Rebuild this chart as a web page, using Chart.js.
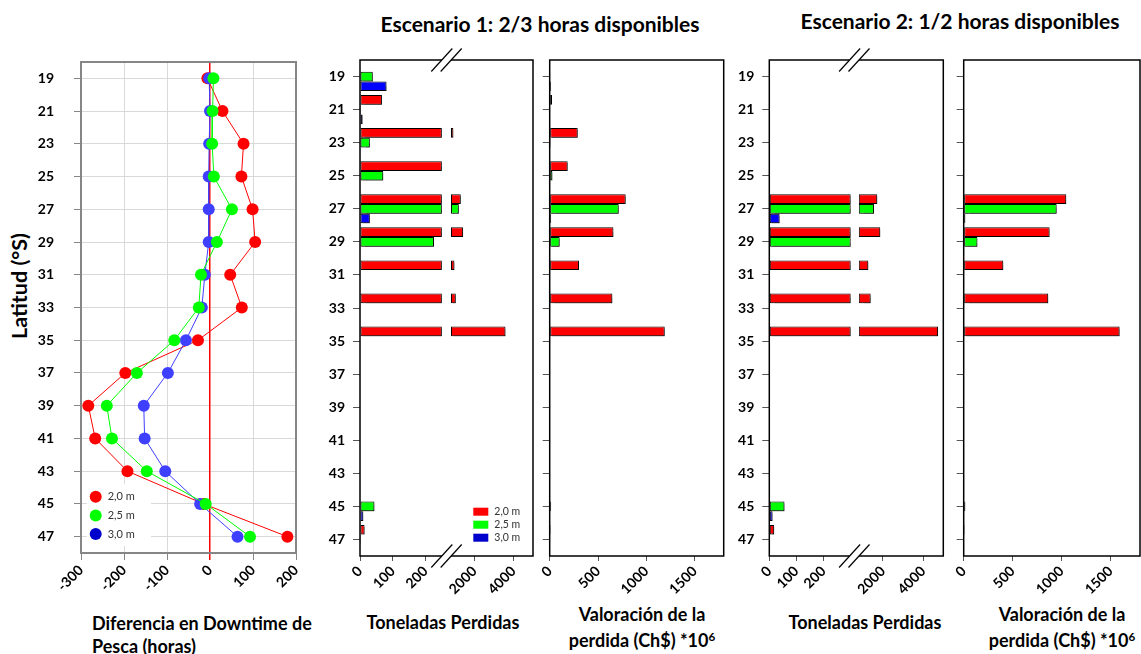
<!DOCTYPE html>
<html>
<head>
<meta charset="utf-8">
<script src="https://cdn.jsdelivr.net/npm/chart.js@4/dist/chart.umd.min.js"></script>
<style>
  body { margin: 0; width: 1141px; height: 654px; background: #fff; position: relative; overflow: hidden;
         font-family: Lato, "Liberation Sans", sans-serif; font-weight: bold; color: #000; }
  canvas { position: absolute; top: 0; }
  .txt { position: absolute; white-space: nowrap; line-height: 1; }
  .ctr { transform: translateX(-50%); text-align: center; }
  sup { font-size: 0.65em; vertical-align: 0.55em; line-height: 0; }
</style>
</head>
<body>
<div class="txt ctr" style="left:540px; top:13px; font-size:21px;">Escenario 1: 2/3 horas disponibles</div>
<div class="txt ctr" style="left:960px; top:10px; font-size:21px;">Escenario 2: 1/2 horas disponibles</div>
<div class="txt" style="left:20px; top:286px; font-size:21.5px; transform: translate(-50%,-50%) rotate(-90deg);">Latitud (°S)</div>
<div class="txt" style="left:92px; top:612px; font-size:18px; line-height:23px;">Diferencia en Downtime de<br>Pesca (horas)</div>
<div class="txt ctr" style="left:443px; top:613px; font-size:18px;">Toneladas Perdidas</div>
<div class="txt ctr" style="left:642px; top:601px; font-size:18px; line-height:26px;">Valoración de la<br>perdida (Ch$) *10<sup>6</sup></div>
<div class="txt ctr" style="left:865px; top:613px; font-size:18px;">Toneladas Perdidas</div>
<div class="txt ctr" style="left:1062px; top:601px; font-size:18px; line-height:26px;">Valoración de la<br>perdida (Ch$) *10<sup>6</sup></div>

<canvas id="downtime" width="310" height="603" style="left:0px"></canvas>
<canvas id="tonsS1" width="228" height="606" style="left:310px"></canvas>
<canvas id="valueS1" width="192" height="606" style="left:538px"></canvas>
<canvas id="tonsS2" width="220" height="606" style="left:730px"></canvas>
<canvas id="valueS2" width="191" height="606" style="left:950px"></canvas>

<script>
// Categories
const LATITUDES = ['19', '21', '23', '25', '27', '29', '31', '33', '35', '37', '39', '41', '43', '45', '47'];
const SERIES_LABELS = ['2,0 m', '2,5 m', '3,0 m'];

// Tick values
const DOWNTIME_TICKS = [-300, -200, -100, 0, 100, 200];
const TONS_LOW_TICKS = [0, 100, 200];
const TONS_HIGH_TICKS = [2000, 4000];
const VALUE_TICKS = [0, 500, 1000, 1500];

// Diferencia en downtime de pesca (horas)
const DOWNTIME_20 = [-6, 29, 78, 73, 99, 105, 47, 74, -28, -197, -283, -267, -192, -15, 180];
const DOWNTIME_25 = [8, 6, 5, 9, 51, 16, -21, -26, -83, -170, -240, -228, -147, -10, 93];
const DOWNTIME_30 = [-2, 0, -2, -3, -3, -3, -12, -19, -56, -98, -154, -152, -104, -23, 64];

// Escenario 1: toneladas perdidas
const TONS_S1_20 = [0, 67, 920, 590, 1300, 1420, 975, 1045, 3590, 0, 0, 0, 0, 0, 14];
const TONS_S1_25 = [39, 3, 30, 71, 1200, 226, 0, 0, 0, 0, 0, 0, 0, 44, 3];
const TONS_S1_30 = [81, 8, 0, 0, 30, 0, 0, 0, 0, 0, 0, 0, 0, 10, 2];

// Escenario 1: valoracion de la perdida (Ch$ *10^6)
const VALUE_S1_20 = [0, 24, 290, 186, 786, 659, 303, 648, 1190, 0, 0, 0, 0, 0, 10];
const VALUE_S1_25 = [3, 0, 10, 28, 714, 103, 0, 0, 0, 0, 0, 0, 0, 15, 0];
const VALUE_S1_30 = [14, 0, 0, 0, 15, 0, 0, 0, 0, 0, 0, 0, 0, 0, 0];

// Escenario 2: toneladas perdidas
const TONS_S2_20 = [0, 0, 0, 0, 1718, 1866, 1272, 1390, 4740, 0, 0, 0, 0, 0, 18];
const TONS_S2_25 = [0, 0, 0, 0, 1554, 310, 0, 0, 0, 0, 0, 0, 0, 56, 3];
const TONS_S2_30 = [0, 0, 0, 0, 38, 0, 0, 0, 0, 0, 0, 0, 0, 12, 2];

// Escenario 2: valoracion de la perdida (Ch$ *10^6)
const VALUE_S2_20 = [0, 0, 0, 0, 1047, 877, 404, 863, 1592, 0, 0, 0, 0, 0, 10];
const VALUE_S2_25 = [0, 0, 0, 0, 949, 140, 0, 0, 0, 0, 0, 0, 0, 17, 0];
const VALUE_S2_30 = [0, 0, 0, 0, 17, 0, 0, 0, 0, 0, 0, 0, 0, 0, 0];

// Colors
const POINT_COLORS = ['#ff0000', '#00ff00', '#3f3fff'];
const BAR_COLORS = ['#ff0000', '#00ff00', '#0000ff'];
const LEGEND_COLORS = ['#ff0000', '#00ff00', '#0000cc'];

const TICK_FONT = { family: 'Lato, "Liberation Sans", sans-serif', weight: 'bold', size: 14 };

// draws a box round the plot area
const framePlugin = {
  id: 'frame',
  draw(chart, opts) {
    const { ctx, chartArea: a } = chart;
    ctx.save();
    ctx.strokeStyle = opts.color || '#000';
    ctx.lineWidth = opts.width || 1.5;
    ctx.strokeRect(a.left, a.top, a.right - a.left, a.bottom - a.top);
    ctx.restore();
  },
  beforeDatasetsDraw(chart, args, opts) { if (opts.under) this.draw(chart, opts); },
  afterDatasetsDraw(chart, args, opts) { if (!opts.under) this.draw(chart, opts); }
};

// soft drop shadow under the bars
const barShadow = {
  id: 'barShadow',
  beforeDatasetDraw(chart) {
    if (chart.config.type !== 'bar') return;
    const ctx = chart.ctx;
    ctx.save();
    ctx.shadowColor = 'rgba(0, 0, 0, 0.4)';
    ctx.shadowOffsetX = 2;
    ctx.shadowOffsetY = 2;
    ctx.shadowBlur = 1;
  },
  afterDatasetDraw(chart) {
    if (chart.config.type !== 'bar') return;
    chart.ctx.restore();
  }
};

// "//" marks where the tons axis jumps from the low to the high segment
const breakPlugin = {
  id: 'axisBreak',
  afterDraw(chart) {
    const xa = chart.scales.xa;
    if (!xa) return;
    const { ctx, chartArea: a } = chart;
    const cx = xa.right - 4.5;
    [a.top, a.bottom].forEach((y) => {
      ctx.save();
      ctx.fillStyle = '#fff';
      ctx.beginPath();
      ctx.moveTo(cx - 7, y + 2.5);
      ctx.lineTo(cx - 2.5, y - 2.5);
      ctx.lineTo(cx + 7, y - 2.5);
      ctx.lineTo(cx + 2.5, y + 2.5);
      ctx.closePath();
      ctx.fill();
      ctx.strokeStyle = '#000';
      ctx.lineWidth = 1.2;
      [-4.7, 4.7].forEach((d) => {
        ctx.beginPath();
        ctx.moveTo(cx + d - 10.5, y + 11.5);
        ctx.lineTo(cx + d + 10.5, y - 11.5);
        ctx.stroke();
      });
      ctx.restore();
    });
  }
};

// small legend inside the plot area
const insetLegend = {
  id: 'insetLegend',
  afterDatasetsDraw(chart, args, o) {
    if (!o.shape) return;
    const { ctx, chartArea: a } = chart;
    const x0 = a.left + o.left;
    const y0 = a.bottom - o.bottom;
    ctx.save();
    if (o.box) {
      ctx.fillStyle = '#fff';
      ctx.fillRect(a.left + o.box[0], a.bottom - o.box[1], o.box[2], o.box[3]);
    }
    ctx.font = o.font;
    ctx.textBaseline = 'middle';
    SERIES_LABELS.forEach((label, i) => {
      const y = y0 + i * o.spacing;
      ctx.fillStyle = LEGEND_COLORS[i];
      if (o.shape === 'circle') {
        ctx.beginPath();
        ctx.arc(x0, y, 6, 0, 2 * Math.PI);
        ctx.fill();
      } else {
        ctx.fillRect(x0, y - 4, 15, 8);
      }
      ctx.fillStyle = '#333';
      ctx.fillText(label, x0 + o.gap, y);
    });
    ctx.restore();
  }
};

Chart.register(barShadow, framePlugin, breakPlugin, insetLegend);
Chart.defaults.font.family = TICK_FONT.family;
Chart.defaults.color = '#000';

const lineSeries = (i, data, order) => ({
  label: SERIES_LABELS[i],
  data: data,
  order: order,
  borderColor: POINT_COLORS[i],
  backgroundColor: POINT_COLORS[i],
  borderWidth: 1,
  pointRadius: 6,
  pointBorderWidth: 0,
  pointBackgroundColor: POINT_COLORS[i],
  tension: 0
});

const barSeries = (i, data, axis, base) => ({
  label: SERIES_LABELS[i],
  data: data,
  stack: 's' + i,
  xAxisID: axis,
  base: base,
  backgroundColor: BAR_COLORS[i],
  borderColor: '#000',
  borderWidth: 1,
  borderSkipped: false,
  categoryPercentage: 0.88,
  barPercentage: 1
});

const latitudeAxis = (width, showLabels) => ({
  type: 'category',
  offset: true,
  grid: { offset: false, drawOnChartArea: false, tickLength: 7, tickColor: '#555' },
  border: { display: false },
  ticks: { display: showLabels, font: TICK_FONT, padding: 8, autoSkip: false },
  afterFit: (s) => { s.width = width; }
});

const valueAxis = (extra) => Object.assign({
  type: 'linear',
  position: 'bottom',
  grid: { drawOnChartArea: false, tickLength: 5, tickColor: '#555' },
  border: { display: false },
  afterFit: (s) => { s.height = 50; }
}, extra);

// fixed tick values, rotated labels without thousands separators
const useTicks = (values) => (s) => { s.ticks = values.map((v) => ({ value: v })); };
const rotatedTicks = () => ({
  font: TICK_FONT, minRotation: 45, maxRotation: 45, autoSkip: false, padding: 2,
  callback: (value) => String(value)
});

const baseOptions = (padding) => ({
  indexAxis: 'y',
  responsive: false,
  animation: false,
  events: [],
  layout: { padding: padding }
});

// Panel 1: downtime lines
const drawDowntime = () => {
  const options = baseOptions({ top: 62, right: 14, left: 0, bottom: 0 });
  options.plugins = {
    legend: { display: false },
    tooltip: { enabled: false },
    frame: { color: '#868686', width: 2, under: true },
    insetLegend: { shape: 'circle', left: 14.7, bottom: 56.3, spacing: 18.7, gap: 12,
                   font: '11px Lato, "Liberation Sans", sans-serif', box: [6, 69, 64, 62] }
  };
  options.scales = {
    y: {
      type: 'category',
      offset: true,
      grid: { color: '#d9d9d9', tickColor: '#868686', tickLength: 7 },
      border: { display: false },
      ticks: { font: TICK_FONT, padding: 20, autoSkip: false },
      afterFit: (s) => { s.width = 81; }
    },
    x: {
      type: 'linear',
      min: -300,
      max: 200,
      grid: {
        color: (c) => (c.tick && c.tick.value === 0 ? '#ff0000' : '#d9d9d9'),
        tickColor: (c) => (c.tick && c.tick.value === 0 ? '#ff0000' : '#868686'),
        lineWidth: (c) => (c.tick && c.tick.value === 0 ? 1.5 : 1),
        tickLength: 7
      },
      border: { display: false },
      ticks: rotatedTicks(),
      afterBuildTicks: useTicks(DOWNTIME_TICKS),
      afterFit: (s) => { s.height = 50; }
    }
  };

  new Chart(document.getElementById('downtime'), {
    type: 'line',
    data: {
      labels: LATITUDES,
      datasets: [
        lineSeries(0, DOWNTIME_20, 2),
        lineSeries(1, DOWNTIME_25, 0),
        lineSeries(2, DOWNTIME_30, 1)
      ]
    },
    options: options
  });
};

// Panels 2 and 4: tons lost, with a broken value axis
const drawTons = (id, series, brk, yWidth, padding, legend) => {
  const low = series.map((vals, i) => barSeries(i, vals.map((v) => Math.min(v, brk.cap)), 'xa'));
  const high = series.map((vals, i) => barSeries(i, vals.map((v) => (v >= brk.highMin ? v : null)), 'xb', brk.highMin));

  const options = baseOptions(padding);
  options.plugins = {
    legend: { display: false },
    tooltip: { enabled: false },
    frame: { color: '#000', width: 1.5 },
    insetLegend: legend || {}
  };
  options.scales = {
    y: latitudeAxis(yWidth, true),
    xa: valueAxis({ stack: 'tons', stackWeight: brk.lowWidth, min: 0, max: brk.lowMax,
                    ticks: rotatedTicks(), afterBuildTicks: useTicks(TONS_LOW_TICKS) }),
    xb: valueAxis({ stack: 'tons', stackWeight: brk.highWidth, min: brk.highMin, max: brk.highMax,
                    ticks: rotatedTicks(), afterBuildTicks: useTicks(TONS_HIGH_TICKS) })
  };

  new Chart(document.getElementById(id), {
    type: 'bar',
    data: { labels: LATITUDES, datasets: low.concat(high) },
    options: options
  });
};

// Panels 3 and 5: value of the loss
const drawValue = (id, series, yWidth, padding) => {
  const options = baseOptions(padding);
  options.plugins = {
    legend: { display: false },
    tooltip: { enabled: false },
    frame: { color: '#000', width: 1.5 }
  };
  options.scales = {
    y: latitudeAxis(yWidth, false),
    x: valueAxis({ min: 0, max: 1800, ticks: rotatedTicks(), afterBuildTicks: useTicks(VALUE_TICKS) })
  };

  new Chart(document.getElementById(id), {
    type: 'bar',
    data: { labels: LATITUDES, datasets: series.map((vals, i) => barSeries(i, vals, 'x')) },
    options: options
  });
};

const setup = () => {
  drawDowntime();

  drawTons('tonsS1', [TONS_S1_20, TONS_S1_25, TONS_S1_30],
    { cap: 250, lowMax: 278, highMin: 800, highMax: 5000, lowWidth: 91, highWidth: 82 },
    50, { top: 60, right: 5, left: 0, bottom: 0 },
    { shape: 'rect', left: 113.3, bottom: 44.3, spacing: 13, gap: 21, font: '10.5px Lato, "Liberation Sans", sans-serif' });
  drawValue('valueS1', [VALUE_S1_20, VALUE_S1_25, VALUE_S1_30], 11.7, { top: 60, right: 6.3, left: 0, bottom: 0 });

  drawTons('tonsS2', [TONS_S2_20, TONS_S2_25, TONS_S2_30],
    { cap: 300, lowMax: 330, highMin: 800, highMax: 5000, lowWidth: 89.5, highWidth: 84.5 },
    39.3, { top: 60, right: 6.7, left: 0, bottom: 0 });
  drawValue('valueS2', [VALUE_S2_20, VALUE_S2_25, VALUE_S2_30], 13.7, { top: 60, right: 1, left: 0, bottom: 0 });
};

window.addEventListener('load', setup);
</script>
</body>
</html>
